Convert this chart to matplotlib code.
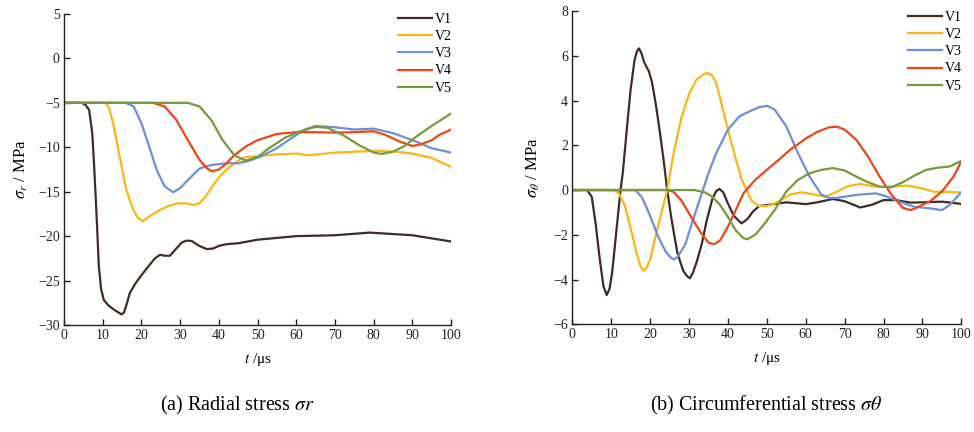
import matplotlib
matplotlib.use("Agg")
import matplotlib.pyplot as plt

plt.rcParams['font.family'] = ['Liberation Serif', 'DejaVu Serif']
plt.rcParams['mathtext.fontset'] = 'stix'

labels = ["V1", "V2", "V3", "V4", "V5"]
colors = ["#3e2c25", "#fbb710", "#6d8fdb", "#ee4514", "#789a3a"]

# ---- (a) radial stress ----
r_t1 = [0, 4.5, 5.5, 6.5, 7.3, 7.8, 8.4, 9, 9.6, 10.3, 11.5, 13, 14.85, 15.5, 16.3, 17, 18.5, 20, 22, 23.5, 24.8, 26, 27.4, 29, 30.5, 31.7, 33, 35, 36.8, 38.5, 40, 42, 45, 50, 55, 60, 70, 79, 90, 100]
r_v1 = [-5, -5, -5.2, -5.8, -8.4, -12.2, -17.5, -23.4, -26.0, -27.2, -27.8, -28.3, -28.8, -28.6, -27.5, -26.4, -25.3, -24.4, -23.3, -22.5, -22.1, -22.2, -22.2, -21.4, -20.7, -20.5, -20.55, -21.1, -21.45, -21.4, -21.1, -20.9, -20.8, -20.4, -20.2, -20.0, -19.9, -19.6, -19.9, -20.6]
r_t2 = [0, 10.5, 11.5, 12.7, 14.4, 16.1, 17.9, 19.2, 20.45, 22, 24.8, 27, 29.5, 31.5, 33.4, 35, 36.5, 38, 40, 42, 45, 47, 50, 55, 60, 63, 70, 80, 86, 90, 95, 100]
r_v2 = [-5, -5, -5.4, -7.3, -11.06, -14.8, -17.06, -18.0, -18.3, -17.8, -17.06, -16.6, -16.3, -16.3, -16.5, -16.3, -15.6, -14.6, -13.4, -12.5, -11.5, -11.1, -11.0, -10.8, -10.7, -10.9, -10.6, -10.4, -10.5, -10.7, -11.2, -12.2]
r_t3 = [0, 16, 18, 20, 22, 24, 26, 28.2, 30, 32, 35, 38, 42, 45, 48, 51, 55, 58, 62, 65, 70, 75, 80, 85, 90, 95, 100]
r_v3 = [-5, -5, -5.4, -7.3, -9.9, -12.6, -14.4, -15.05, -14.6, -13.7, -12.4, -12.0, -11.8, -11.8, -11.5, -11.0, -10.1, -9.2, -8.05, -7.6, -7.75, -8.0, -7.9, -8.4, -9.2, -10.1, -10.6]
r_t4 = [0, 23, 26, 29, 32, 35, 37, 38.3, 40, 41.5, 44, 47, 50, 55, 60, 65, 70, 75, 80, 83, 87, 90, 92, 95, 97, 100]
r_v4 = [-5, -5, -5.4, -6.9, -9.2, -11.4, -12.4, -12.7, -12.5, -12.0, -10.9, -9.9, -9.2, -8.5, -8.3, -8.3, -8.35, -8.3, -8.2, -8.6, -9.4, -9.85, -9.7, -9.2, -8.6, -8.0]
r_t5 = [0, 32, 35, 38, 41, 44, 47, 50, 53, 57, 61, 65, 68, 72, 76, 80, 82, 85, 88, 91, 95, 100]
r_v5 = [-5, -5, -5.4, -6.9, -9.2, -10.9, -11.5, -11.1, -10.1, -8.95, -8.2, -7.7, -7.8, -8.6, -9.7, -10.6, -10.75, -10.5, -9.85, -8.8, -7.6, -6.2]

# ---- (b) circumferential stress ----
c_t1 = [0, 3.8, 5, 6, 7, 8, 8.84, 9.6, 10.3, 11, 11.7, 12.4, 13, 14, 15, 16, 16.6, 17.15, 17.8, 18.5, 19.7, 20.5, 21.5, 22.5, 23.5, 24.4, 25.5, 27, 28.5, 29.5, 30.26, 31, 32, 33.3, 34.5, 36, 37, 37.8, 38.8, 40, 41.5, 43.5, 45, 46.5, 48, 50, 55, 60, 63, 67, 70, 74, 77, 80, 83, 87, 90, 95, 100]
c_v1 = [0, 0, -0.3, -1.5, -3.0, -4.3, -4.69, -4.4, -3.6, -2.4, -1.2, 0, 0.8, 2.7, 4.5, 5.8, 6.2, 6.33, 6.1, 5.7, 5.3, 4.8, 3.8, 2.6, 1.3, 0, -1.3, -2.8, -3.6, -3.85, -3.94, -3.7, -3.2, -2.4, -1.4, -0.4, -0.05, 0.05, -0.1, -0.6, -1.15, -1.49, -1.3, -0.95, -0.72, -0.67, -0.55, -0.63, -0.55, -0.4, -0.5, -0.78, -0.66, -0.45, -0.45, -0.56, -0.55, -0.52, -0.62]
c_t2 = [0, 10.7, 12, 13.5, 15, 16.5, 17.5, 18.25, 19, 20, 22, 24.4, 26, 28, 30, 32, 34, 35, 36, 37, 39, 40.5, 42, 43.5, 44.8, 46, 47.8, 50, 52, 56, 59, 62, 65, 68, 71, 74, 78, 82, 86, 90, 93, 97, 100]
c_v2 = [0, 0, -0.15, -0.7, -1.7, -2.8, -3.4, -3.6, -3.5, -3.1, -1.65, 0, 1.6, 3.2, 4.3, 4.95, 5.2, 5.22, 5.1, 4.8, 3.4, 2.38, 1.4, 0.5, 0, -0.45, -0.71, -0.72, -0.6, -0.2, -0.1, -0.2, -0.3, -0.08, 0.18, 0.27, 0.15, 0.15, 0.2, 0.07, -0.08, -0.08, -0.12]
c_t3 = [0, 16.3, 18, 20, 22, 24, 25.2, 26.1, 27, 29, 31, 33, 35, 37, 40, 43, 46, 48, 50.1, 52, 55, 58, 61, 64, 66, 68, 71, 74, 78, 81, 84, 88, 92, 95, 97, 100]
c_v3 = [0, 0, -0.35, -1.15, -2.05, -2.75, -3.0, -3.1, -3.0, -2.45, -1.35, -0.3, 0.75, 1.65, 2.7, 3.3, 3.55, 3.7, 3.76, 3.6, 2.85, 1.65, 0.6, -0.2, -0.35, -0.35, -0.27, -0.2, -0.15, -0.3, -0.52, -0.75, -0.82, -0.9, -0.67, -0.1]
c_t4 = [0, 24.4, 26, 28, 30, 33, 35, 36.5, 38, 40, 42, 44, 47, 50, 53, 56, 60, 63, 66, 68, 70, 73, 76, 79, 82, 85, 87, 89, 92, 95, 98, 100]
c_v4 = [0, 0, -0.08, -0.45, -1.04, -1.9, -2.35, -2.42, -2.25, -1.64, -0.9, -0.15, 0.45, 0.9, 1.34, 1.8, 2.3, 2.6, 2.8, 2.83, 2.7, 2.25, 1.5, 0.6, -0.2, -0.8, -0.9, -0.75, -0.5, -0.07, 0.6, 1.27]
c_t5 = [0, 31.3, 34, 36, 38, 40, 42, 44, 45, 47, 49, 52, 55, 58, 61, 64, 67, 70, 73, 76, 79, 82, 85, 88, 91, 94, 97, 100]
c_v5 = [0, 0, -0.1, -0.3, -0.67, -1.2, -1.8, -2.15, -2.2, -2.0, -1.6, -0.9, -0.07, 0.45, 0.75, 0.9, 0.98, 0.87, 0.6, 0.35, 0.15, 0.12, 0.35, 0.65, 0.9, 1.0, 1.05, 1.3]

radial = [(r_t1, r_v1), (r_t2, r_v2), (r_t3, r_v3), (r_t4, r_v4), (r_t5, r_v5)]
circ = [(c_t1, c_v1), (c_t2, c_v2), (c_t3, c_v3), (c_t4, c_v4), (c_t5, c_v5)]

fig = plt.figure(figsize=(9.74, 4.32), dpi=100)
W, H = 974, 432
ax1 = fig.add_axes([64 / W, 1 - 325 / H, (451 - 64) / W, (325 - 14) / H])
ax2 = fig.add_axes([572.3 / W, 1 - 324.3 / H, (961.3 - 572.3) / W, (324.3 - 11) / H])


def style(ax, ylim, yticks):
    ax.set_xlim(0, 100)
    ax.set_ylim(*ylim)
    ax.set_xticks(range(0, 101, 10))
    ax.set_yticks(yticks)
    for s in ["top", "right"]:
        ax.spines[s].set_visible(False)
    for s in ["left", "bottom"]:
        ax.spines[s].set_linewidth(1.0)
        ax.spines[s].set_color("#222222")
    ax.tick_params(direction="in", length=4, width=1.0, labelsize=10, colors="#222222", pad=3)
    ax.set_xlabel(r"$t$ /μs", fontsize=11, labelpad=6)


for ax, data in [(ax1, radial), (ax2, circ)]:
    for (t, v), lab, c in zip(data, labels, colors):
        ax.plot(t, v, color=c, lw=1.6, label=lab, solid_joinstyle="round")

style(ax1, (-30, 5), range(-30, 6, 5))
style(ax2, (-6, 8), range(-6, 9, 2))
ax1.set_ylabel(r"$\sigma_r$ / MPa", fontsize=12, labelpad=6)
ax2.set_ylabel(r"$\sigma_\theta$ / MPa", fontsize=12, labelpad=8)

for ax, anchor in [(ax1, (452 / W, 1 - 13 / H)), (ax2, (962 / W, 1 - 11 / H))]:
    ax.legend(loc="upper right", bbox_to_anchor=anchor, bbox_transform=fig.transFigure,
              frameon=False, fontsize=10, handlelength=2.5, handletextpad=0.2,
              labelspacing=0.3, borderaxespad=0, borderpad=0)

fig.text(238 / W, 1 - 405 / H, r"(a) Radial stress $\sigma r$", ha="center", va="center", fontsize=14.5)
fig.text(766 / W, 1 - 405 / H, r"(b) Circumferential stress $\sigma\theta$", ha="center", va="center", fontsize=14.5)

fig.savefig("out.png", dpi=100)
